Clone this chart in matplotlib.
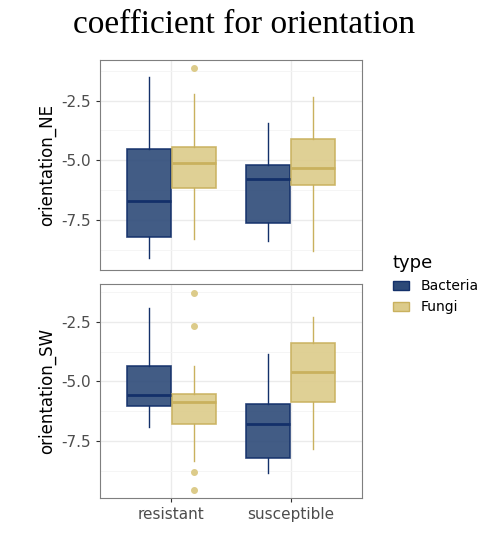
import matplotlib.pyplot as plt
from matplotlib.patches import Patch

groups = ["resistant", "susceptible"]
types = ["Bacteria", "Fungi"]
# stats per panel: (whislo, q1, med, q3, whishi, fliers)
ne = {
    ("resistant", "Bacteria"): (-9.1, -8.2, -6.72, -4.51, -1.52, []),
    ("resistant", "Fungi"): (-8.28, -6.15, -5.12, -4.43, -2.21, [-1.15]),
    ("susceptible", "Bacteria"): (-8.4, -7.62, -5.78, -5.2, -3.44, []),
    ("susceptible", "Fungi"): (-8.81, -6.02, -5.33, -4.1, -2.34, []),
}
sw = {
    ("resistant", "Bacteria"): (-6.93, -6.03, -5.56, -4.33, -1.9, []),
    ("resistant", "Fungi"): (-8.36, -6.79, -5.85, -5.52, -4.33, [-1.27, -2.67, -8.8, -9.56]),
    ("susceptible", "Bacteria"): (-8.84, -8.2, -6.8, -5.94, -3.86, []),
    ("susceptible", "Fungi"): (-7.86, -5.86, -4.58, -3.4, -2.29, []),
}
fill = {"Bacteria": "#2d4a78", "Fungi": "#dccb8a"}
edge = {"Bacteria": "#13306a", "Fungi": "#c9b15e"}

fig = plt.figure(figsize=(4.88, 5.6), dpi=100)
fig.text(0.5, 0.955, "coefficient for orientation", ha="center", va="center",
         family="Liberation Serif", fontsize=24)
axes = [fig.add_axes([100/488, 1-270/560, 262/488, 210/560]),
        fig.add_axes([100/488, 1-498/560, 262/488, 214/560])]
for ax, data, lab in zip(axes, [ne, sw], ["orientation_NE", "orientation_SW"]):
    for gi, g in enumerate(groups):
        for ti, t in enumerate(types):
            lo, q1, med, q3, hi, fl = data[(g, t)]
            st = [dict(whislo=lo, q1=q1, med=med, q3=q3, whishi=hi, fliers=fl)]
            pos = gi + 1 + (ti - 0.5) * 0.375
            ax.bxp(st, positions=[pos], widths=0.365, patch_artist=True, showcaps=False,
                   boxprops=dict(facecolor=fill[t], edgecolor=edge[t], lw=1.2, alpha=0.9),
                   medianprops=dict(color=edge[t], lw=2),
                   whiskerprops=dict(color=edge[t], lw=1),
                   flierprops=dict(marker="o", markerfacecolor=fill[t], markeredgecolor=fill[t], markersize=4))
    ax.set_xlim(0.4, 2.6)
    ax.set_ylim(-9.6 if lab.endswith("NE") else -9.9, -0.8 if lab.endswith("NE") else -0.9)
    ax.set_yticks([-2.5, -5.0, -7.5])
    ax.set_yticklabels(["-2.5", "-5.0", "-7.5"], fontsize=11, color="#4d4d4d")
    ax.set_ylabel(lab, fontsize=12)
    ax.set_xticks([1, 2])
    ax.grid(True, color="#ebebeb", lw=1)
    ax.set_axisbelow(True)
    ax.set_yticks([-1.25, -3.75, -6.25, -8.75], minor=True)
    ax.grid(True, which="minor", axis="y", color="#f4f4f4", lw=0.6)
    ax.tick_params(which="minor", length=0)
    ax.tick_params(color="#333333", length=3)
    for s in ax.spines.values():
        s.set_color("#7f7f7f")
axes[0].set_xticklabels([])
axes[0].tick_params(axis="x", length=0)
axes[1].set_xticklabels(groups, fontsize=11, color="#4d4d4d")

handles = [Patch(facecolor=fill[t], edgecolor=edge[t], label=t) for t in types]
fig.legend(handles=handles, title="type", loc="upper left", bbox_to_anchor=(380/488, 1-242/560),
           frameon=False, fontsize=10, title_fontsize=13, alignment="left", handlelength=1.2)
fig.savefig("out.png", dpi=100)
